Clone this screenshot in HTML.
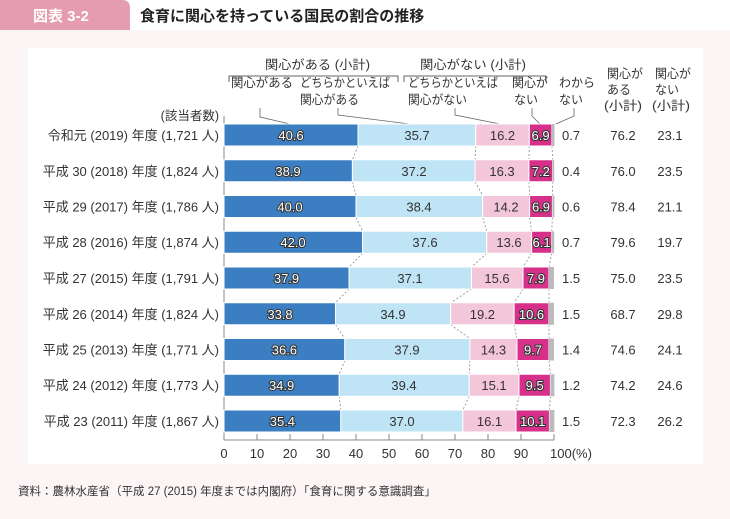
<!DOCTYPE html>
<html><head><meta charset="utf-8"><style>
body{margin:0;width:730px;height:514px;overflow:hidden;background:#fcf5f6;font-family:"Liberation Sans","Noto Sans CJK JP",sans-serif;}
</style></head><body>
<svg width="730" height="514" xmlns="http://www.w3.org/2000/svg" font-family="Liberation Sans, Noto Sans CJK JP, sans-serif">
<rect x="0" y="0" width="730" height="30" fill="#fff"/>
<path d="M0 0H122Q130 0 130 8V30H0Z" fill="#e59bb0"/>
<text x="33" y="21" font-size="15" fill="#fff" font-weight="bold">図表 3-2</text>
<text x="140" y="21" font-size="15" fill="#222" font-weight="bold">食育に関心を持っている国民の割合の推移</text>
<rect x="28" y="48" width="675" height="416" fill="#fff"/>
<g font-size="12.5" fill="#333" lengthAdjust="spacingAndGlyphs">
<text x="265" y="69" textLength="105" lengthAdjust="spacingAndGlyphs">関心がある (小計)</text>
<text x="420" y="69" textLength="106" lengthAdjust="spacingAndGlyphs">関心がない (小計)</text>
<path d="M229 82V76H398V82M404 82V76H546V82" fill="none" stroke="#666"/>
<text x="231" y="87" textLength="62" lengthAdjust="spacingAndGlyphs">関心がある</text>
<text x="300" y="87" textLength="90" lengthAdjust="spacingAndGlyphs">どちらかといえば</text>
<text x="300" y="104" textLength="59" lengthAdjust="spacingAndGlyphs">関心がある</text>
<text x="408" y="87" textLength="90" lengthAdjust="spacingAndGlyphs">どちらかといえば</text>
<text x="408" y="104" textLength="59" lengthAdjust="spacingAndGlyphs">関心がない</text>
<text x="512" y="87" textLength="36" lengthAdjust="spacingAndGlyphs">関心が</text>
<text x="514" y="104" textLength="24" lengthAdjust="spacingAndGlyphs">ない</text>
<text x="559" y="87" textLength="36" lengthAdjust="spacingAndGlyphs">わから</text>
<text x="559" y="104" textLength="24" lengthAdjust="spacingAndGlyphs">ない</text>
<text x="607" y="78" textLength="36" lengthAdjust="spacingAndGlyphs">関心が</text>
<text x="607" y="94" textLength="24" lengthAdjust="spacingAndGlyphs">ある</text>
<text x="604" y="110" textLength="38" lengthAdjust="spacingAndGlyphs">(小計)</text>
<text x="655" y="78" textLength="36" lengthAdjust="spacingAndGlyphs">関心が</text>
<text x="655" y="94" textLength="24" lengthAdjust="spacingAndGlyphs">ない</text>
<text x="652" y="110" textLength="38" lengthAdjust="spacingAndGlyphs">(小計)</text>
<text x="219" y="120" text-anchor="end">(該当者数)</text>
</g>
<g fill="none" stroke="#666" stroke-width="0.8">
<path d="M260 108V117L290 124"/><path d="M338 108V115L410 124"/><path d="M455 108V115L500 124"/><path d="M532 108V116L540 124"/><path d="M574 108V116L556 124"/>
</g>
<line x1="224" y1="116" x2="224" y2="440" stroke="#888"/>
<line x1="224" y1="440" x2="554" y2="440" stroke="#888"/>
<g stroke="#888"><line x1="257" y1="434" x2="257" y2="440"/><line x1="290" y1="434" x2="290" y2="440"/><line x1="323" y1="434" x2="323" y2="440"/><line x1="356" y1="434" x2="356" y2="440"/><line x1="389" y1="434" x2="389" y2="440"/><line x1="422" y1="434" x2="422" y2="440"/><line x1="455" y1="434" x2="455" y2="440"/><line x1="488" y1="434" x2="488" y2="440"/><line x1="521" y1="434" x2="521" y2="440"/><line x1="554" y1="434" x2="554" y2="440"/></g>
<g font-size="13" fill="#333" text-anchor="middle">
<text x="224" y="458">0</text><text x="257" y="458">10</text><text x="290" y="458">20</text><text x="323" y="458">30</text><text x="356" y="458">40</text><text x="389" y="458">50</text><text x="422" y="458">60</text><text x="455" y="458">70</text><text x="488" y="458">80</text><text x="521" y="458">90</text><text x="571" y="458">100(%)</text>
</g>
<g stroke="#888" stroke-dasharray="2,2" stroke-width="0.8" fill="none">
<path d="M358 146L352.4 159.75M475.8 146L475.1 159.75M529.3 146L528.9 159.75M552 146L552.7 159.75"/>
<path d="M352.4 181.75L356 195.5M475.1 181.75L482.7 195.5M528.9 181.75L529.6 195.5M552.7 181.75L552.4 195.5"/>
<path d="M356 217.5L362.6 231.25M482.7 217.5L486.7 231.25M529.6 217.5L531.6 231.25M552.4 217.5L551.7 231.25"/>
<path d="M362.6 253.25L349.1 267M486.7 253.25L471.5 267M531.6 253.25L523 267M551.7 253.25L549 267"/>
<path d="M349.1 289L335.5 302.75M471.5 289L450.7 302.75M523 289L514.1 302.75M549 289L549 302.75"/>
<path d="M335.5 324.75L344.8 338.5M450.7 324.75L469.9 338.5M514.1 324.75L517 338.5M549 324.75L549 338.5"/>
<path d="M344.8 360.5L339.2 374.25M469.9 360.5L469.2 374.25M517 360.5L519 374.25M549 360.5L550.4 374.25"/>
<path d="M339.2 396.25L340.8 410M469.2 396.25L462.9 410M519 396.25L516 410M550.4 396.25L549.4 410"/>
</g>
<g stroke="#fff" stroke-width="1">
<rect x="224" y="124" width="134" height="22" fill="#3b7fc2"/><rect x="358" y="124" width="117.8" height="22" fill="#bfe4f6"/><rect x="475.8" y="124" width="53.5" height="22" fill="#f4c6da"/><rect x="529.3" y="124" width="22.7" height="22" fill="#d6308a"/><rect x="552" y="124" width="2.5" height="22" fill="#bbb" stroke="none"/>
<rect x="224" y="159.75" width="128.4" height="22" fill="#3b7fc2"/><rect x="352.4" y="159.75" width="122.7" height="22" fill="#bfe4f6"/><rect x="475.1" y="159.75" width="53.8" height="22" fill="#f4c6da"/><rect x="528.9" y="159.75" width="23.8" height="22" fill="#d6308a"/><rect x="552.7" y="159.75" width="1.5" height="22" fill="#bbb" stroke="none"/>
<rect x="224" y="195.5" width="132" height="22" fill="#3b7fc2"/><rect x="356" y="195.5" width="126.7" height="22" fill="#bfe4f6"/><rect x="482.7" y="195.5" width="46.9" height="22" fill="#f4c6da"/><rect x="529.6" y="195.5" width="22.8" height="22" fill="#d6308a"/><rect x="552.4" y="195.5" width="2" height="22" fill="#bbb" stroke="none"/>
<rect x="224" y="231.25" width="138.6" height="22" fill="#3b7fc2"/><rect x="362.6" y="231.25" width="124.1" height="22" fill="#bfe4f6"/><rect x="486.7" y="231.25" width="44.9" height="22" fill="#f4c6da"/><rect x="531.6" y="231.25" width="20.1" height="22" fill="#d6308a"/><rect x="551.7" y="231.25" width="2.5" height="22" fill="#bbb" stroke="none"/>
<rect x="224" y="267" width="125.1" height="22" fill="#3b7fc2"/><rect x="349.1" y="267" width="122.4" height="22" fill="#bfe4f6"/><rect x="471.5" y="267" width="51.5" height="22" fill="#f4c6da"/><rect x="523" y="267" width="26" height="22" fill="#d6308a"/><rect x="549" y="267" width="5" height="22" fill="#bbb" stroke="none"/>
<rect x="224" y="302.75" width="111.5" height="22" fill="#3b7fc2"/><rect x="335.5" y="302.75" width="115.2" height="22" fill="#bfe4f6"/><rect x="450.7" y="302.75" width="63.4" height="22" fill="#f4c6da"/><rect x="514.1" y="302.75" width="34.9" height="22" fill="#d6308a"/><rect x="549" y="302.75" width="5" height="22" fill="#bbb" stroke="none"/>
<rect x="224" y="338.5" width="120.8" height="22" fill="#3b7fc2"/><rect x="344.8" y="338.5" width="125.1" height="22" fill="#bfe4f6"/><rect x="469.9" y="338.5" width="47.1" height="22" fill="#f4c6da"/><rect x="517" y="338.5" width="32" height="22" fill="#d6308a"/><rect x="549" y="338.5" width="5" height="22" fill="#bbb" stroke="none"/>
<rect x="224" y="374.25" width="115.2" height="22" fill="#3b7fc2"/><rect x="339.2" y="374.25" width="130" height="22" fill="#bfe4f6"/><rect x="469.2" y="374.25" width="49.8" height="22" fill="#f4c6da"/><rect x="519" y="374.25" width="31.4" height="22" fill="#d6308a"/><rect x="550.4" y="374.25" width="4" height="22" fill="#bbb" stroke="none"/>
<rect x="224" y="410" width="116.8" height="22" fill="#3b7fc2"/><rect x="340.8" y="410" width="122.1" height="22" fill="#bfe4f6"/><rect x="462.9" y="410" width="53.1" height="22" fill="#f4c6da"/><rect x="516" y="410" width="33.4" height="22" fill="#d6308a"/><rect x="549.4" y="410" width="5" height="22" fill="#bbb" stroke="none"/>
</g>
<g font-size="13" text-anchor="middle" fill="#fff" stroke="#333" stroke-width="2" paint-order="stroke">
<text x="291" y="140">40.6</text><text x="540.6" y="140">6.9</text>
<text x="288" y="176">38.9</text><text x="540.8" y="176">7.2</text>
<text x="290" y="211.5">40.0</text><text x="541" y="211.5">6.9</text>
<text x="293" y="247">42.0</text><text x="541.6" y="247">6.1</text>
<text x="286.5" y="283">37.9</text><text x="536" y="283">7.9</text>
<text x="280" y="319">33.8</text><text x="531.5" y="319">10.6</text>
<text x="284.4" y="354.5">36.6</text><text x="533" y="354.5">9.7</text>
<text x="281.6" y="390">34.9</text><text x="534.7" y="390">9.5</text>
<text x="282.4" y="426">35.4</text><text x="532.7" y="426">10.1</text>
</g>
<g font-size="13" text-anchor="middle" fill="#333">
<text x="417" y="140">35.7</text><text x="502.5" y="140">16.2</text>
<text x="414" y="176">37.2</text><text x="502" y="176">16.3</text>
<text x="419" y="211.5">38.4</text><text x="506" y="211.5">14.2</text>
<text x="425" y="247">37.6</text><text x="509" y="247">13.6</text>
<text x="410" y="283">37.1</text><text x="497" y="283">15.6</text>
<text x="393" y="319">34.9</text><text x="482.4" y="319">19.2</text>
<text x="407" y="354.5">37.9</text><text x="493.5" y="354.5">14.3</text>
<text x="404" y="390">39.4</text><text x="494" y="390">15.1</text>
<text x="402" y="426">37.0</text><text x="489.5" y="426">16.1</text>
</g>
<g font-size="13" fill="#333">
<g text-anchor="start">
<text x="562" y="140">0.7</text><text x="562" y="176">0.4</text><text x="562" y="211.5">0.6</text><text x="562" y="247">0.7</text><text x="562" y="283">1.5</text><text x="562" y="319">1.5</text><text x="562" y="354.5">1.4</text><text x="562" y="390">1.2</text><text x="562" y="426">1.5</text>
</g>
<g text-anchor="middle">
<text x="623" y="140">76.2</text><text x="623" y="176">76.0</text><text x="623" y="211.5">78.4</text><text x="623" y="247">79.6</text><text x="623" y="283">75.0</text><text x="623" y="319">68.7</text><text x="623" y="354.5">74.6</text><text x="623" y="390">74.2</text><text x="623" y="426">72.3</text>
<text x="670" y="140">23.1</text><text x="670" y="176">23.5</text><text x="670" y="211.5">21.1</text><text x="670" y="247">19.7</text><text x="670" y="283">23.5</text><text x="670" y="319">29.8</text><text x="670" y="354.5">24.1</text><text x="670" y="390">24.6</text><text x="670" y="426">26.2</text>
</g>
<g text-anchor="end">
<text x="219" y="140">令和元 (2019) 年度 (1,721 人)</text>
<text x="219" y="176">平成 30 (2018) 年度 (1,824 人)</text>
<text x="219" y="211.5">平成 29 (2017) 年度 (1,786 人)</text>
<text x="219" y="247">平成 28 (2016) 年度 (1,874 人)</text>
<text x="219" y="283">平成 27 (2015) 年度 (1,791 人)</text>
<text x="219" y="319">平成 26 (2014) 年度 (1,824 人)</text>
<text x="219" y="354.5">平成 25 (2013) 年度 (1,771 人)</text>
<text x="219" y="390">平成 24 (2012) 年度 (1,773 人)</text>
<text x="219" y="426">平成 23 (2011) 年度 (1,867 人)</text>
</g>
</g>
<text x="18" y="495" font-size="11.5" fill="#333">資料：農林水産省（平成 27 (2015) 年度までは内閣府）「食育に関する意識調査」</text>
</svg>
</body></html>
